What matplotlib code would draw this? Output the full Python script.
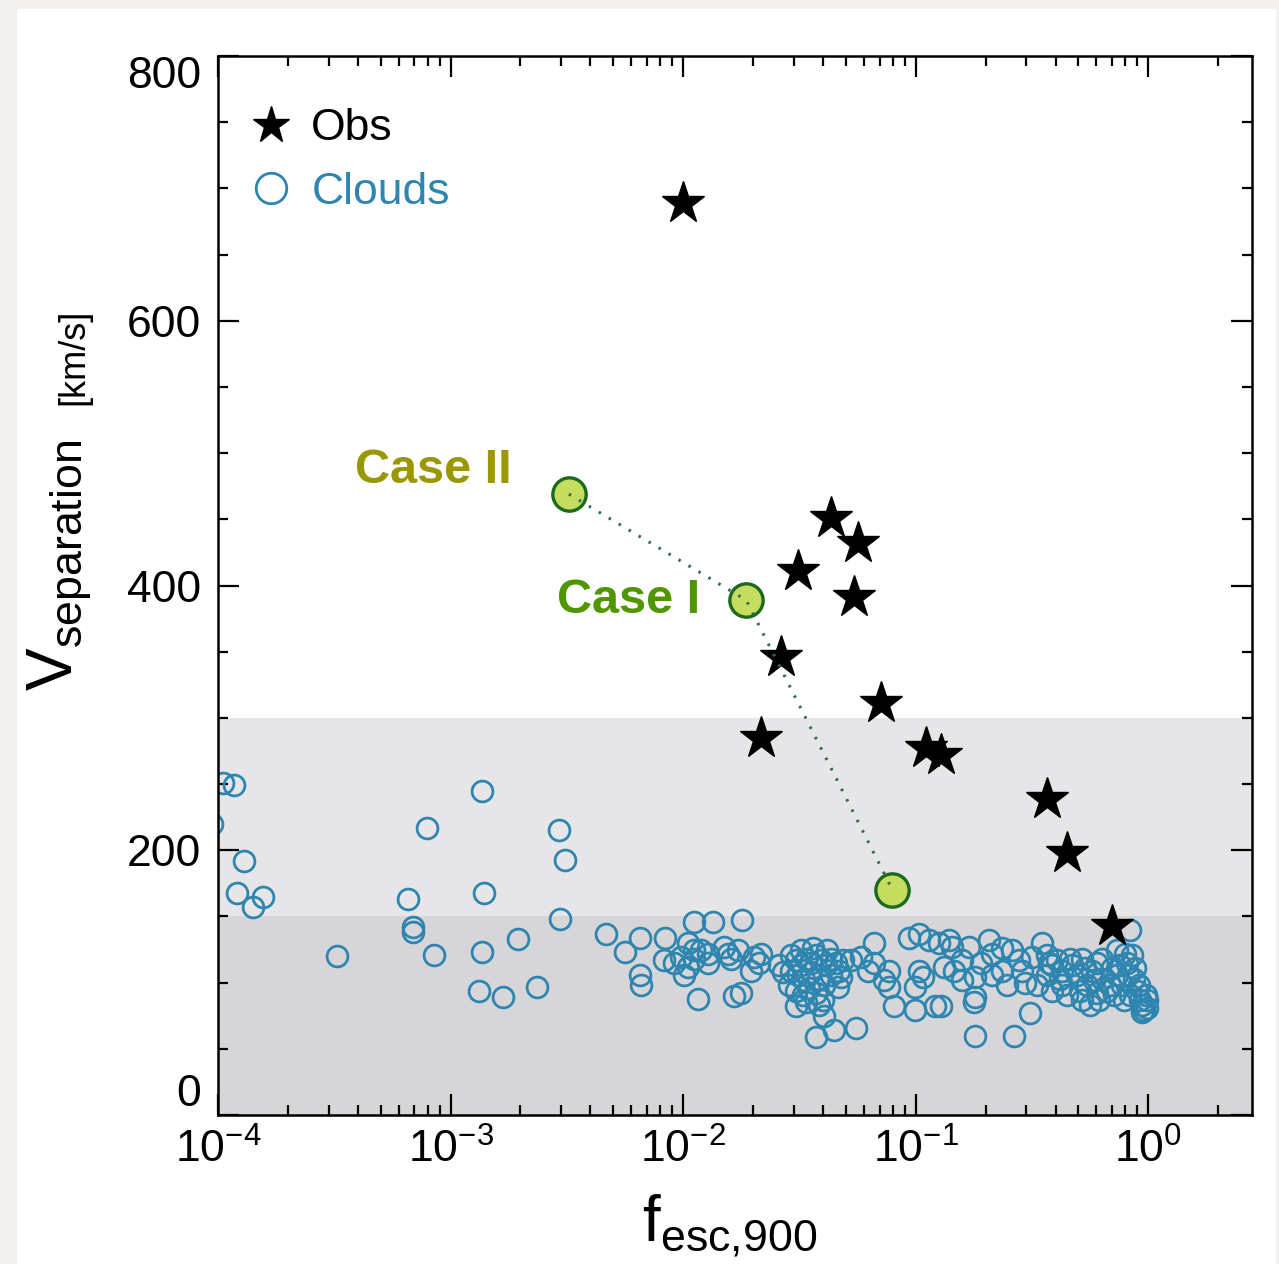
import matplotlib
matplotlib.use("Agg")
import matplotlib.pyplot as plt
from matplotlib.lines import Line2D
from matplotlib.patches import Rectangle
from matplotlib.ticker import FixedLocator, LogLocator, NullFormatter, MultipleLocator

plt.rcParams['font.family'] = ['Liberation Sans', 'DejaVu Sans']

# observed systems (stars)
obs_f = [0.0100, 0.0435, 0.0568, 0.0313, 0.0546, 0.0264, 0.0713, 0.0217,
         0.111, 0.129, 0.367, 0.448, 0.700]
obs_v = [689, 451, 432, 411, 391, 346, 311, 285, 277, 272, 239, 198, 143]

# model cases joined by the dotted line
case_f = [0.00323, 0.0187, 0.0796]
case_v = [469, 389, 170]

# simulated clouds (open circles)
cloud_f = [
    1.05e-4, 1.17e-4, 9.4e-5, 1.29e-4, 1.21e-4, 1.42e-4, 1.56e-4, 3.26e-4,
    6.59e-4, 6.93e-4, 6.93e-4, 7.96e-4, 8.45e-4, 1.37e-3, 1.39e-3, 1.37e-3,
    1.32e-3, 1.69e-3, 1.96e-3, 2.35e-3, 2.92e-3, 3.10e-3, 2.95e-3, 4.66e-3,
    5.62e-3, 6.53e-3, 6.53e-3, 6.59e-3, 8.36e-3, 0.0111, 0.0135, 0.0179,
    0.0116, 0.0166,
    0.0105, 0.0111, 0.0098, 0.0120, 0.0128, 0.00828, 0.00914, 0.0105,
    0.0111, 0.0101, 0.0156, 0.0161, 0.0150, 0.0173, 0.0128,
    0.0202, 0.0213, 0.0196, 0.0217, 0.0178, 0.0259, 0.0270, 0.0307,
    0.0292, 0.0307, 0.0323, 0.0339, 0.0356, 0.0374, 0.0393, 0.0413, 0.0435, 0.0456,
    0.0292, 0.0313, 0.0332, 0.0356, 0.0382, 0.0405, 0.0435, 0.0470, 0.0489,
    0.0286, 0.0307, 0.0329, 0.0349, 0.0374, 0.0401, 0.0323, 0.0363, 0.0418,
    0.0339, 0.0386,
    0.0665, 0.0766, 0.0766, 0.0735, 0.0811, 0.0991, 0.0933, 0.103, 0.114,
    0.103, 0.108, 0.0991, 0.121, 0.126, 0.0374, 0.0448, 0.0557, 0.0405,
    0.0530, 0.0585, 0.0665, 0.0627, 0.0480, 0.0466,
    0.139, 0.143, 0.133, 0.147, 0.158, 0.180, 0.192, 0.169, 0.207, 0.213,
    0.235, 0.259, 0.278, 0.295, 0.316, 0.349, 0.374, 0.129, 0.179, 0.180,
    0.180, 0.264, 0.310, 0.235, 0.286, 0.333, 0.247, 0.158, 0.213,
    0.367, 0.405, 0.426, 0.470, 0.494, 0.520, 0.546, 0.574, 0.603, 0.634,
    0.666, 0.700, 0.735, 0.773, 0.811, 0.836, 0.871, 0.897, 0.924, 0.942,
    0.962, 0.991, 0.386, 0.448, 0.520, 0.603, 0.426, 0.367, 0.634, 0.735,
    0.853, 0.562, 0.386, 0.418, 0.461, 0.509, 0.535, 0.585, 0.618, 0.683,
    0.717, 0.754, 0.792, 0.823, 0.879, 0.911, 0.976, 0.991, 0.942, 0.836, 0.796,
]
cloud_v = [
    251, 249, 220, 192, 168, 157, 165, 120,
    163, 142, 138, 217, 121, 245, 168, 123,
    94, 89, 133, 97, 215, 193, 148, 137,
    123, 134, 106, 98, 134, 146, 146, 147,
    88, 90,
    130, 125, 119, 125, 122, 117, 115, 112,
    118, 106, 122, 118, 127, 125, 115,
    119, 115, 109, 122, 92, 113, 108, 82,
    121, 117, 113, 118, 115, 121, 117, 113, 118, 115,
    109, 106, 102, 108, 103, 98, 106, 109, 117,
    98, 94, 91, 96, 92, 87, 125, 126, 125,
    85, 83,
    130, 109, 97, 102, 82, 79, 134, 137, 132,
    109, 104, 97, 82, 130, 59, 64, 66, 75,
    117, 119, 115, 109, 104, 97,
    132, 127, 112, 109, 102, 104, 115, 127, 132, 122,
    109, 125, 117, 100, 119, 130, 115, 82, 85, 89,
    60, 60, 77, 126, 109, 98, 98, 117, 106,
    121, 117, 109, 113, 106, 118, 98, 109, 115, 103,
    94, 111, 106, 98, 115, 91, 103, 94, 87, 83,
    79, 87, 94, 91, 87, 92, 98, 106, 118, 125,
    121, 83, 113, 103, 118, 94, 111, 102, 87, 98,
    91, 113, 87, 106, 111, 98, 91, 81, 78, 140, 122,
]

blue = '#2e86b0'

fig = plt.figure(figsize=(12.79, 12.64), dpi=100, facecolor='#f2f1ef')
fig.patches.append(Rectangle((17 / 1279, 0), 1259 / 1279, 1255 / 1264,
                             transform=fig.transFigure, facecolor='white',
                             edgecolor='none', zorder=-10))
ax = fig.add_axes([218 / 1279, 1 - 1115 / 1264, 1034 / 1279, 1059 / 1264])
ax.set_facecolor('white')

ax.set_xscale('log')
ax.set_xlim(1e-4, 2.8)
ax.set_ylim(0, 800)

# shaded velocity bands
ax.axhspan(150, 300, color='#e6e6e8', lw=0, zorder=0)
ax.axhspan(0, 150, color='#d6d6d8', lw=0, zorder=0)

ax.plot(cloud_f, cloud_v, 'o', ms=15, mfc='none', mec=blue, mew=2.0, zorder=2)
ax.plot(obs_f, obs_v, '*', ms=32, color='black', mec='black', zorder=3)
ax.plot(case_f, case_v, 'o', ms=24, mfc='#c6dc5e', mec='#1d6a1d', mew=2.4, zorder=4)
ax.plot(case_f, case_v, ls=(0, (0.8, 3)), lw=2.2, color='#2d6b4f', zorder=5)

ax.text(3.9e-4, 487, 'Case II', color='#9a9800', fontsize=35, fontweight='bold',
        family=['Liberation Sans Narrow', 'Liberation Sans'], va='center', ha='left')
ax.text(2.86e-3, 389, 'Case I', color='#4f9600', fontsize=35, fontweight='bold',
        family=['Liberation Sans Narrow', 'Liberation Sans'], va='center', ha='left')

# ticks
ax.xaxis.set_major_locator(FixedLocator([1e-4, 1e-3, 1e-2, 1e-1, 1e0]))
ax.set_xticklabels([r'$\mathregular{10^{-4}}$', r'$\mathregular{10^{-3}}$',
                    r'$\mathregular{10^{-2}}$', r'$\mathregular{10^{-1}}$',
                    r'$\mathregular{10^{0}}$'])
ax.xaxis.set_minor_locator(LogLocator(base=10, subs=range(2, 10), numticks=20))
ax.xaxis.set_minor_formatter(NullFormatter())
ax.yaxis.set_major_locator(FixedLocator([0, 200, 400, 600, 800]))
ax.set_yticklabels(['0', '200', '400', '600', '800'])
ax.yaxis.set_minor_locator(MultipleLocator(50))
ax.tick_params(which='both', direction='in', top=True, right=True, width=1.6)
ax.tick_params(which='major', length=15, labelsize=32, pad=12)
ax.tick_params(axis='x', which='major', pad=10)
ax.tick_params(which='minor', length=7.5)
ylabels = ax.get_yticklabels()
ylabels[0].set_va('bottom')
ylabels[-1].set_va('top')
for s in ax.spines.values():
    s.set_linewidth(1.8)

# axis titles
fig.text(730 / 1279, 1 - 1225 / 1264, r'$\mathregular{f_{esc{,}900}}$', fontsize=46,
         ha='center', va='center')
fig.text(60 / 1279, 1 - 565 / 1264, r'$\mathregular{V_{separation}}$', fontsize=46,
         rotation=90, ha='center', va='center')
fig.text(74 / 1279, 1 - 357 / 1264, '[km/s]', fontsize=26, rotation=90,
         ha='center', va='center')

handles = [Line2D([], [], ls='none', marker='*', ms=28, color='black'),
           Line2D([], [], ls='none', marker='o', ms=22, mfc='none', mec=blue, mew=2.0)]
leg = ax.legend(handles, ['Obs', 'Clouds'], loc='upper left', frameon=False,
                fontsize=32, bbox_to_anchor=(0.0, 0.98), handlelength=1.0,
                handletextpad=0.4, labelspacing=0.5, borderaxespad=0.3)
leg.get_texts()[1].set_color(blue)

fig.savefig('out.png', dpi=100, facecolor=fig.get_facecolor())
